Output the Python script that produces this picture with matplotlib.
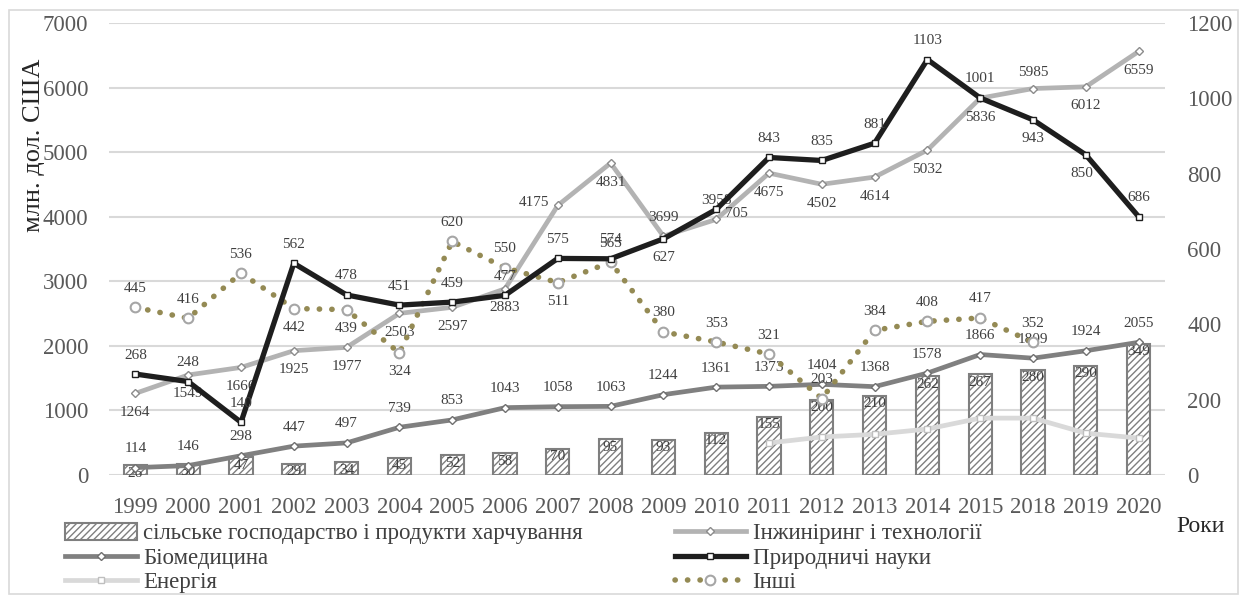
import numpy as np
import matplotlib
matplotlib.use("Agg")
import matplotlib.pyplot as plt
from matplotlib.patches import Rectangle

plt.rcParams['font.family'] = ['Liberation Serif', 'DejaVu Serif']
plt.rcParams['hatch.color'] = '#595959'
plt.rcParams['hatch.linewidth'] = 1.0

# data
years = ['1999', '2000', '2001', '2002', '2003', '2004', '2005', '2006', '2007', '2008',
         '2009', '2010', '2011', '2012', '2013', '2014', '2015', '2018', '2019', '2020']
agri = [26, 30, 47, 29, 34, 45, 52, 58, 70, 95, 93, 112, 155, 200, 210, 262, 267, 280, 290, 349]
engineering = [1264, 1549, 1666, 1925, 1977, 2503, 2597, 2883, 4175, 4831,
               3699, 3958, 4675, 4502, 4614, 5032, 5836, 5985, 6012, 6559]
biomed = [114, 146, 298, 447, 497, 739, 853, 1043, 1058, 1063,
          1244, 1361, 1373, 1404, 1368, 1578, 1866, 1809, 1924, 2055]
natural = [268, 248, 140, 562, 478, 451, 459, 477, 575, 574,
           627, 705, 843, 835, 881, 1103, 1001, 943, 850, 686]
energy = [np.nan] * 12 + [85, 101, 108, 122, 151, 151, 111, 98]
others = [445, 416, 536, 442, 439, 324, 620, 550, 511, 565,
          380, 353, 321, 203, 384, 408, 417, 352, np.nan, np.nan]

x = np.arange(len(years))
lab_col = '#404040'
tick_col = '#595959'

fig = plt.figure(figsize=(12.48, 5.96), dpi=100)
pos = [109 / 1248, 1 - 475 / 596, (1165 - 109) / 1248, (475 - 23) / 596]

# axes stack: grid/left ticks -> bars -> primary lines -> secondary lines
ax = fig.add_axes(pos)
axb = ax.twinx()
axl = ax.twinx()
ax2 = ax.twinx()
ax.set_zorder(0)
axb.set_zorder(1)
axl.set_zorder(2)
ax2.set_zorder(3)
for a in (axb, axl, ax2):
    a.patch.set_visible(False)

for a in (ax, axb, axl, ax2):
    a.set_xlim(-0.5, len(years) - 0.5)
    for s in a.spines.values():
        s.set_visible(False)

ax.set_ylim(0, 7000)
axl.set_ylim(0, 7000)
axb.set_ylim(0, 1200)
ax2.set_ylim(0, 1200)
ax.set_yticks(range(0, 7001, 1000))
ax2.set_yticks(range(0, 1201, 200))
ax.yaxis.grid(True, color='#d9d9d9', linewidth=1.5)
ax.set_axisbelow(True)
ax.tick_params(axis='y', length=0, labelsize=16.5, labelcolor=tick_col, pad=15)
ax.tick_params(axis='x', length=0, labelsize=16.5, labelcolor=tick_col, pad=16)
ax2.tick_params(axis='y', length=0, labelsize=16.5, labelcolor=tick_col, pad=16)
ax.set_xticks(x)
ax.set_xticklabels(years)
axb.set_yticks([])
axl.set_yticks([])
for a in (axb, axl, ax2):
    a.tick_params(axis='x', bottom=False, labelbottom=False)

# bars (secondary scale)
bars = axb.bar(x, agri, width=0.44, facecolor='white', edgecolor='#7f7f7f',
               linewidth=1.5, hatch='/////', label='сільське господарство і продукти харчування')

# primary lines
l_eng, = axl.plot(x, engineering, color='#b3b3b3', lw=3.4, marker='D', ms=4,
                  mfc='white', mec='#8c8c8c', mew=1, label='Інжиніринг і технології')
l_bio, = axl.plot(x, biomed, color='#808080', lw=3.4, marker='D', ms=4.5,
                  mfc='white', mec='#707070', mew=1, label='Біомедицина')

# secondary lines
l_en, = ax2.plot(x, energy, color='#d9d9d9', lw=3.4, marker='s', ms=4,
                 mfc='white', mec='#bfbfbf', mew=1, label='Енергія')
l_oth, = ax2.plot(x, others, color='#948a54', lw=4, linestyle=(0, (0.05, 2.2)),
                  dash_capstyle='round', marker='o', ms=7, mfc='white', mec='#a6a6a6',
                  mew=1.5, label='Інші')
l_nat, = ax2.plot(x, natural, color='#1e1e1e', lw=3.8, marker='s', ms=4,
                  mfc='white', mec='#1e1e1e', mew=1, label='Природничі науки')

# data labels
up = (0, 9, 'center', 'bottom')
down = (0, -9, 'center', 'top')
special = {
    ('eng', 8): (-6, 2, 'right', 'center'),
    ('eng', 10): (0, 9, 'center', 'bottom'),
    ('eng', 11): (0, 9, 'center', 'bottom'),
    ('eng', 17): (0, 7, 'center', 'bottom'),
    ('nat', 10): (0, -9, 'center', 'top'),
    ('nat', 11): (6, -3, 'left', 'center'),
    ('nat', 17): (0, -9, 'center', 'top'),
    ('nat', 18): (-3, -9, 'center', 'top'),
    ('oth', 3): (0, -9, 'center', 'top'),
    ('oth', 4): (0, -9, 'center', 'top'),
    ('oth', 5): (0, -9, 'center', 'top'),
    ('oth', 8): (0, -9, 'center', 'top'),
}


def add_labels(a, vals, key, default):
    for i, v in enumerate(vals):
        if np.isnan(v):
            continue
        dx, dy, ha, va = special.get((key, i), default)
        a.annotate(str(int(v)), (x[i], v), xytext=(dx, dy), textcoords='offset points',
                   ha=ha, va=va, fontsize=11, color=lab_col, zorder=10)


add_labels(axb, agri, 'agri', (0, -1, 'center', 'top'))
add_labels(axl, engineering, 'eng', down)
add_labels(axl, biomed, 'bio', up)
add_labels(ax2, others, 'oth', up)
add_labels(ax2, natural, 'nat', up)

fig.text(34 / 1248, 1 - 145 / 596, 'млн. дол. США', rotation=90, ha='center',
         va='center', fontsize=19, color='#262626')
fig.text(1201 / 1248, 1 - 527 / 596, 'Роки', ha='center', va='center',
         fontsize=17, color='#262626')

handles = [bars, l_bio, l_en, l_eng, l_nat, l_oth]
fig.legend(handles, [h.get_label() for h in handles], ncol=2, loc='upper left',
           bbox_to_anchor=(54 / 1248, 1 - 512 / 596), frameon=False, fontsize=16.5,
           handlelength=3.1, columnspacing=4.0, labelspacing=0.14, handletextpad=0.3,
           borderpad=0, labelcolor='#404040')

fig.patches.append(Rectangle((9 / 1248, 2 / 596), 1229 / 1248, 584 / 596,
                             transform=fig.transFigure, fill=False,
                             edgecolor='#d9d9d9', linewidth=1.2))

fig.savefig('out.png', dpi=100)
